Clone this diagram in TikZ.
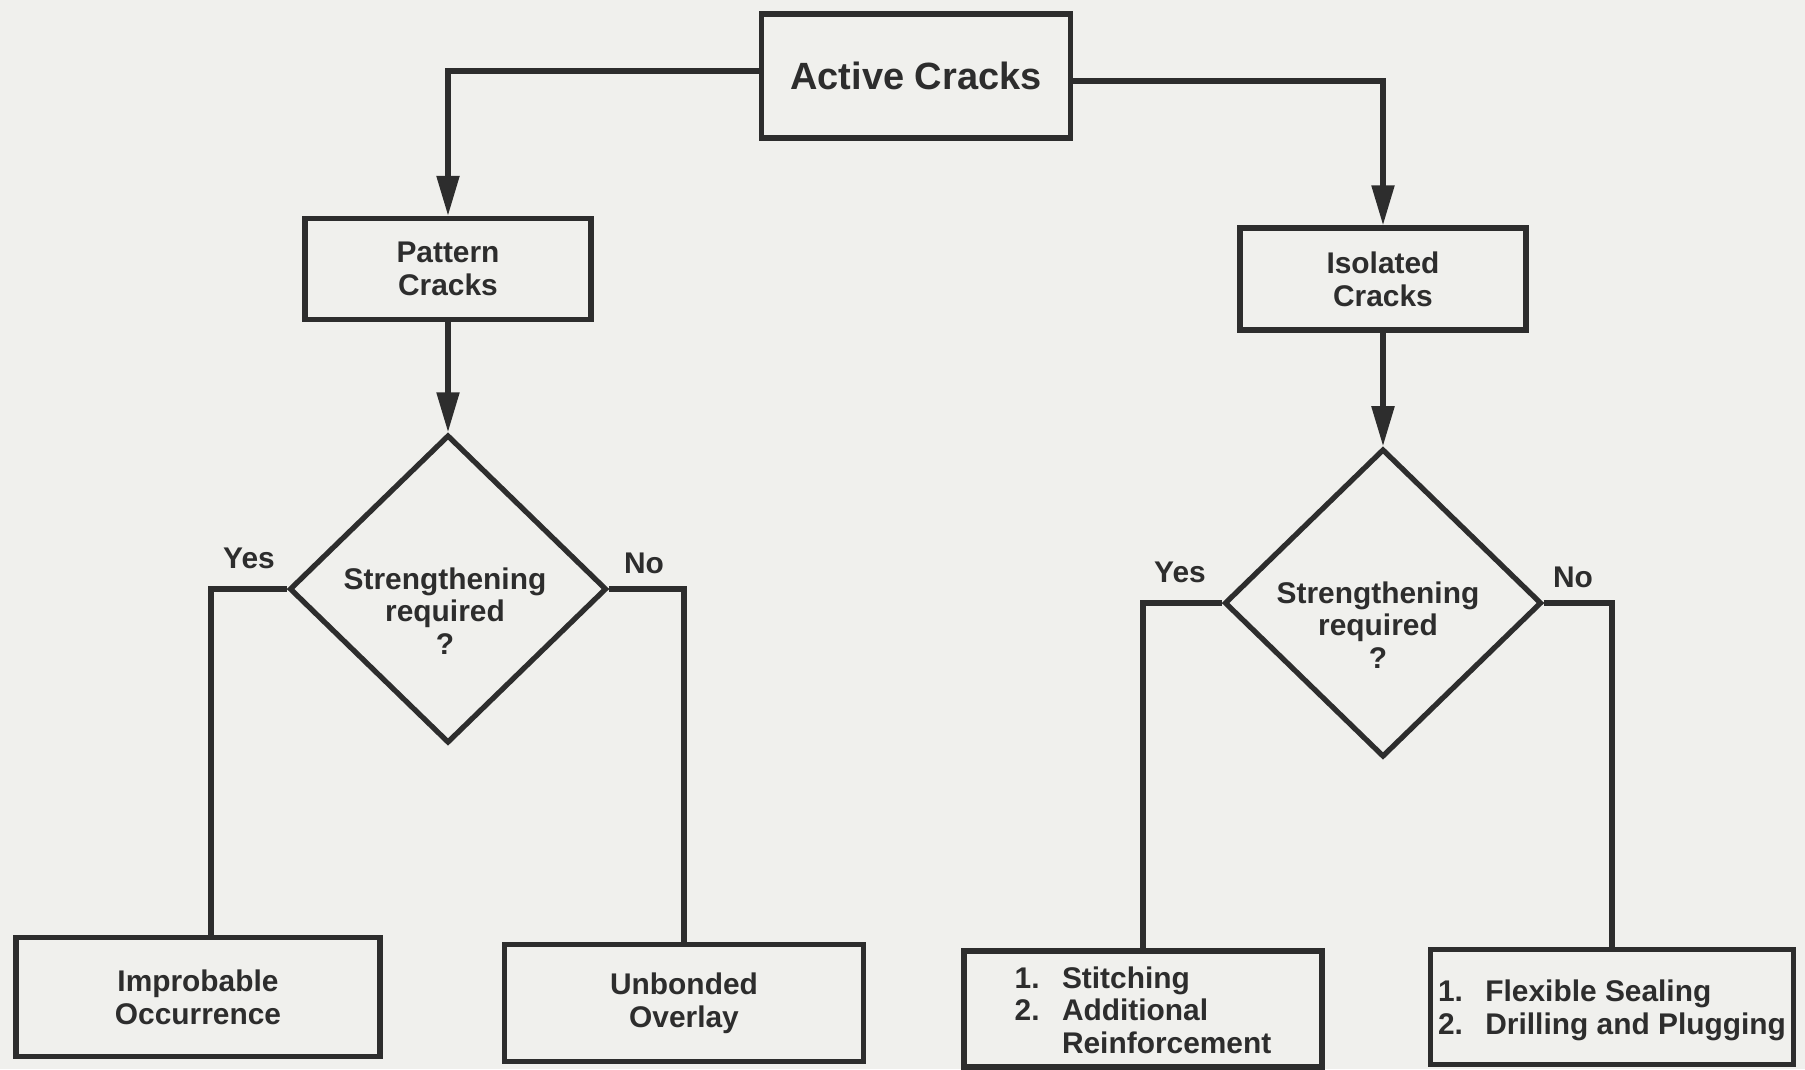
\documentclass[tikz,border=0pt]{standalone}
\usepackage{fontspec}
\setmainfont{Liberation Sans}
\usepackage{tikz}
\usetikzlibrary{shapes.geometric,arrows.meta,positioning}
\definecolor{crack-ink}{RGB}{45,45,45}
\definecolor{crack-paper}{RGB}{240,240,237}

\begin{document}
\begin{tikzpicture}[x=0.01cm, y=-0.01cm,
    box/.style={rectangle, draw=crack-ink, line width=1.5pt, text=crack-ink, align=center, inner sep=2pt, font=\bfseries\fontsize{8.5}{9.3}\selectfont},
    decision/.style={diamond, draw=crack-ink, line width=1.5pt, inner sep=0pt, minimum width=3.17cm, minimum height=3.08cm},
    qtext/.style={text=crack-ink, align=center, inner sep=0pt, font=\bfseries\fontsize{8.5}{9.3}\selectfont},
    answer/.style={text=crack-ink, inner sep=0pt, font=\bfseries\fontsize{8.5}{9.3}\selectfont},
    arrow/.style={-{Triangle[length=0.4cm, width=0.22cm]}, line width=1.5pt, draw=crack-ink},
    link/.style={line width=1.5pt, draw=crack-ink}]

    % Background
    \fill[crack-paper] (0,0) rectangle (1805,1069);
    \useasboundingbox (0,0) rectangle (1805,1069);

    % Top
    \node[box, minimum width=3.09cm, minimum height=1.24cm, font=\bfseries\fontsize{10.8}{12}\selectfont] (active) at (916,76) {Active Cracks};

    % Crack types
    \node[box, minimum width=2.86cm, minimum height=1.01cm] (pattern) at (448,269) {Pattern\\Cracks};
    \node[box, minimum width=2.86cm, minimum height=1.02cm] (isolated) at (1383,279) {Isolated\\Cracks};

    % Decisions
    \node[decision] (dec1) at (448,589) {};
    \node[qtext] (q1) at (445,611) {Strengthening\\required\\?};
    \node[decision] (dec2) at (1383,603) {};
    \node[qtext] (q2) at (1378,625) {Strengthening\\required\\?};

    % Answers
    \node[answer] (yes1) at (249,558) {Yes};
    \node[answer] (no1) at (644,563) {No};
    \node[answer] (yes2) at (1180,572) {Yes};
    \node[answer] (no2) at (1573,577) {No};

    % Outcomes
    \node[box, minimum width=3.64cm, minimum height=1.19cm] (improbable) at (198,997) {Improbable\\Occurrence};
    \node[box, minimum width=3.59cm, minimum height=1.17cm] (unbonded) at (684,1003) {Unbonded\\Overlay};
    \node[box, minimum width=3.58cm, minimum height=1.16cm] (stitching) at (1143,1009) {\raisebox{-1.5pt}[\height][\depth]{\begin{tabular}{@{}l@{\hspace{0.75em}}l@{}}1. & Stitching\\2. & Additional\\ & Reinforcement\end{tabular}}};
    \node[box, minimum width=3.63cm, minimum height=1.15cm] (flexible) at (1612,1007) {\raisebox{-1.2pt}[\height][\depth]{\begin{tabular}{@{}l@{\hspace{0.75em}}l@{}}1. & Flexible Sealing\\2. & Drilling and Plugging\end{tabular}}};

    % Connectors
    \draw[arrow] ([yshift=0.05cm]active.west) -| (pattern.north);
    \draw[arrow] ([yshift=-0.05cm]active.east) -| (isolated.north);
    \draw[arrow] (pattern) -- (dec1);
    \draw[arrow] (isolated) -- (dec2);
    \draw[link] (dec1.west) -| ([xshift=0.13cm]improbable.north);
    \draw[link] (dec1.east) -| (unbonded.north);
    \draw[link] (dec2.west) -| (stitching.north);
    \draw[link] (dec2.east) -| (flexible.north);
\end{tikzpicture}
\end{document}
